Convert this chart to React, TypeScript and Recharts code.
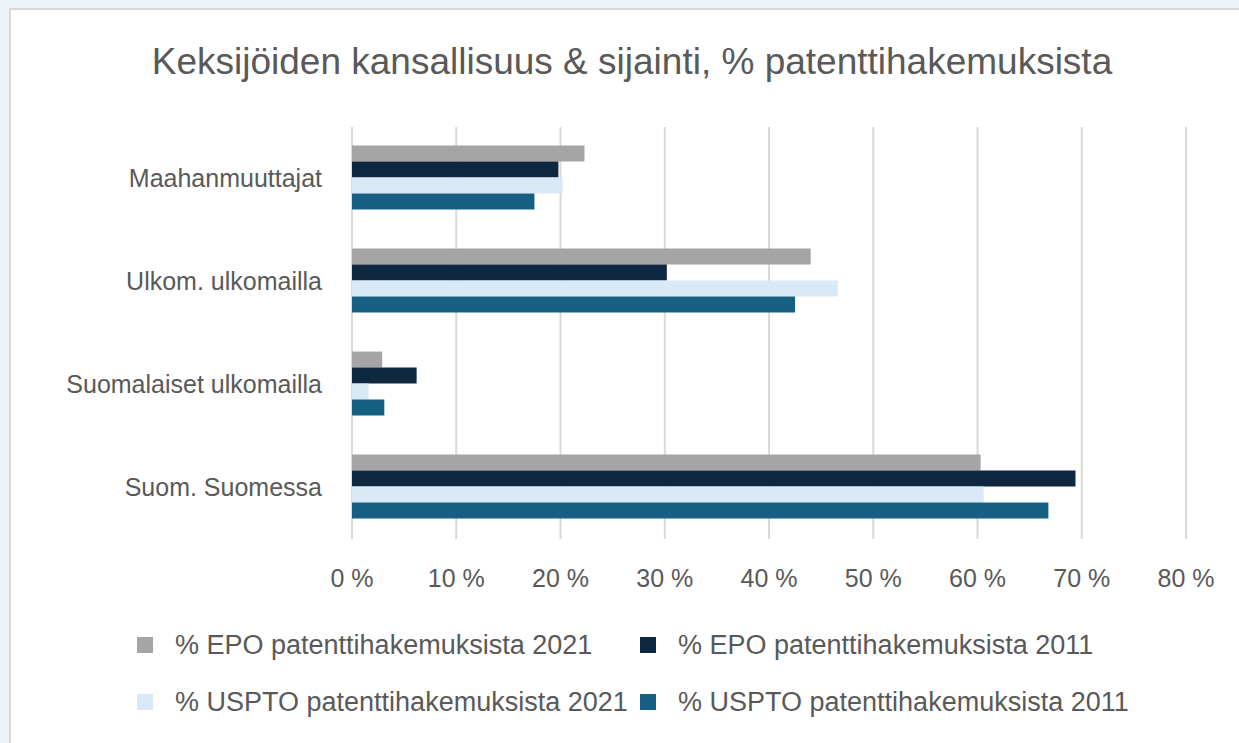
import { BarChart, Bar, XAxis, YAxis, CartesianGrid } from "recharts";

const categories = [
  "Maahanmuuttajat",
  "Ulkom. ulkomailla",
  "Suomalaiset ulkomailla",
  "Suom. Suomessa",
];
const epo2021 = [22.3, 44.0, 2.9, 60.3];
const epo2011 = [19.8, 30.2, 6.2, 69.4];
const uspto2021 = [20.2, 46.6, 1.6, 60.6];
const uspto2011 = [17.5, 42.5, 3.1, 66.8];
const xTicks = [0, 10, 20, 30, 40, 50, 60, 70, 80];

const series = [
  { key: "epo2021", name: "% EPO patenttihakemuksista 2021", color: "#a5a5a5" },
  { key: "epo2011", name: "% EPO patenttihakemuksista 2011", color: "#0e2841" },
  { key: "uspto2021", name: "% USPTO patenttihakemuksista 2021", color: "#dae9f8" },
  { key: "uspto2011", name: "% USPTO patenttihakemuksista 2011", color: "#156082" },
];

const data = categories.map((name, i) => ({
  name,
  epo2021: epo2021[i],
  epo2011: epo2011[i],
  uspto2021: uspto2021[i],
  uspto2011: uspto2011[i],
}));

const font = "'Liberation Sans', Arial, sans-serif";
const textColor = "#595959";

function LegendGrid() {
  return (
    <div
      style={{
        position: "absolute",
        left: 137,
        top: 627,
        display: "grid",
        gridTemplateColumns: "503px 560px",
        rowGap: 21,
        fontFamily: font,
        fontSize: 27,
        color: textColor,
        whiteSpace: "nowrap",
      }}
    >
      {series.map((s) => (
        <div key={s.key} style={{ display: "flex", alignItems: "center", height: 36 }}>
          <span
            style={{
              display: "inline-block",
              width: 16,
              height: 16,
              background: s.color,
              marginRight: 22,
            }}
          />
          <span>{s.name}</span>
        </div>
      ))}
    </div>
  );
}

export default function App() {
  return (
    <div
      style={{
        position: "absolute",
        left: 0,
        top: 0,
        width: 1239,
        height: 743,
        background: "#eef3f8",
        overflow: "hidden",
      }}
    >
      <div
        style={{
          position: "absolute",
          left: 9,
          top: 8,
          width: 1240,
          height: 750,
          background: "#ffffff",
          borderTop: "2px solid #d9d9d9",
          borderLeft: "2px solid #d9d9d9",
        }}
      />
      <div
        style={{
          position: "absolute",
          left: 0,
          top: 40,
          width: 1264,
          textAlign: "center",
          fontFamily: font,
          fontSize: 37,
          color: textColor,
          lineHeight: "44px",
          whiteSpace: "nowrap",
        }}
      >
        Keksijöiden kansallisuus &amp; sijainti, % patenttihakemuksista
      </div>
      <div style={{ position: "absolute", left: 0, top: 0 }}>
        <BarChart
          width={1239}
          height={743}
          data={data}
          layout="vertical"
          margin={{ top: 127, right: 53, bottom: 150, left: 22 }}
          barCategoryGap="18%"
          barGap={0}
        >
          <CartesianGrid horizontal={false} stroke="#d9d9d9" strokeWidth={2} />
          <XAxis
            type="number"
            domain={[0, 80]}
            ticks={xTicks}
            tickFormatter={(v) => `${v} %`}
            axisLine={false}
            tickLine={false}
            tickMargin={24}
            height={54}
            tick={{ fill: textColor, fontSize: 25, fontFamily: font }}
          />
          <YAxis
            type="category"
            dataKey="name"
            width={330}
            axisLine={false}
            tickLine={false}
            tickMargin={24}
            tick={{ fill: textColor, fontSize: 25, fontFamily: font }}
          />
          {series.map((s) => (
            <Bar
              key={s.key}
              dataKey={s.key}
              name={s.name}
              fill={s.color}
              isAnimationActive={false}
            />
          ))}
        </BarChart>
      </div>
      <LegendGrid />
    </div>
  );
}
